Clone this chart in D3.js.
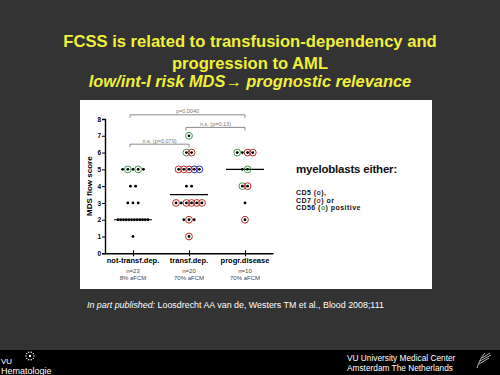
<!DOCTYPE html>
<html>
<head>
<meta charset="utf-8">
<script src="https://cdn.jsdelivr.net/npm/d3@7"></script>
<style>
  html, body { margin: 0; padding: 0; background: #333333; }
  svg { display: block; font-family: "Liberation Sans", Arial, sans-serif; }
</style>
</head>
<body>
<svg id="slide" width="500" height="375"></svg>
<script>
// categories + per-group counts
var categories = ["not-transf.dep.", "transf.dep.", "progr.disease"];
var groupN = ["n=23", "n=20", "n=10"];
var groupAfcm = ["8% aFCM", "70% aFCM", "70% aFCM"];

// rows of points: [score, markers]  k = plain dot, g/r/b = ringed dot (CD56 / CD7 / CD5)
var notTransfDep = [[5, "kgkgk"], [4, "kk"], [3, "kkk"], [2, "kkkkkkkkkkkk"], [1, "k"]];
var transfDep = [[7, "g"], [6, "gr"], [5, "rrrbb"], [4, "kk"], [3, "rkrrrr"], [2, "krk"], [1, "r"]];
var progrDisease = [[6, "gkrr"], [5, "kg"], [4, "gr"], [3, "k"], [2, "r"]];
var groups = [notTransfDep, transfDep, progrDisease];

var medians = [2, 3.5, 5];
var yTicks = [0, 1, 2, 3, 4, 5, 6, 7, 8];

// significance brackets (height in score units)
var compFrom = [0, 1, 0];
var compTo = [2, 2, 1];
var compLevel = [8.25, 7.5, 6.5];
var compLabel = ["p=0.0040", "n.s. (p=0.13)", "n.s. (p=0.079)"];

var ringColor = { g: "#3f9a4c", r: "#b8302c", b: "#2b2fb0" };

var svg = d3.select("#slide");

svg.append("rect").attr("width", 500).attr("height", 375).style("fill", "#333333");

// title
var title = svg.append("g").style("fill", "#f0f03c").attr("text-anchor", "middle")
    .style("font-weight", "bold");
title.append("text").attr("x", 250).attr("y", 47).style("font-size", "16.6px")
    .text("FCSS is related to transfusion-dependency and");
title.append("text").attr("x", 250).attr("y", 69).style("font-size", "16.6px")
    .text("progression to AML");
title.append("text").attr("x", 250).attr("y", 87).style("font-size", "16.4px")
    .style("font-style", "italic")
    .text("low/int-I risk MDS\u2192 prognostic relevance");

// white panel
svg.append("rect").attr("x", 80).attr("y", 100).attr("width", 352).attr("height", 189)
    .style("fill", "#ffffff");

// scales
var x = d3.scalePoint().domain(d3.range(categories.length)).range([105, 273]).padding(0.5);
var y = d3.scaleLinear().domain([0, 8]).range([253.3, 119]);

var chart = svg.append("g");

// y axis
var yAxis = chart.append("g").attr("transform", "translate(105,0)")
    .call(d3.axisLeft(y).tickValues(yTicks).tickSize(3).tickFormat(d3.format("d")));
yAxis.select(".domain").attr("stroke-width", 1.4);
yAxis.selectAll("text").style("font-size", "6.5px").style("font-weight", "bold")
    .style("font-family", "Liberation Sans, Arial, sans-serif").attr("x", -4);

// x axis
var xAxis = chart.append("g").attr("transform", "translate(0,253.3)")
    .call(d3.axisBottom(x).tickSize(3).tickSizeOuter(0).tickFormat(""));
xAxis.select(".domain").attr("stroke-width", 1.4);
xAxis.selectAll(".tick line").attr("y1", -3).attr("stroke-width", 1.2);

// y title
chart.append("text")
    .attr("transform", "translate(92," + y(4) + ") rotate(-90)")
    .attr("text-anchor", "middle")
    .style("font-size", "8px").style("font-weight", "bold")
    .text("MDS flow score");

// category labels
var catLab = chart.append("g").attr("text-anchor", "middle");
catLab.selectAll(".cat").data(categories).join("text")
    .attr("x", function(d, i) { return x(i); }).attr("y", 263)
    .style("font-size", "7.5px").style("font-weight", "bold").text(function(d) { return d; });
catLab.selectAll(".n").data(groupN).join("text")
    .attr("x", function(d, i) { return x(i); }).attr("y", 273)
    .style("fill", "#444").style("font-size", "6px").text(function(d) { return d; });
catLab.selectAll(".af").data(groupAfcm).join("text")
    .attr("x", function(d, i) { return x(i); }).attr("y", 280)
    .style("fill", "#444").style("font-size", "6px").text(function(d) { return d; });

// median lines
chart.selectAll(".median").data(medians).join("line")
    .attr("x1", function(d, i) { return x(i) - 19; })
    .attr("x2", function(d, i) { return x(i) + 19; })
    .attr("y1", function(d) { return y(d); })
    .attr("y2", function(d) { return y(d); })
    .attr("stroke", "#000").attr("stroke-width", 1.2);

// points
var pts = [];
groups.forEach(function(rows, gi) {
  rows.forEach(function(row) {
    var marks = row[1].split("");
    var n = marks.length;
    var step = n > 1 ? Math.min(5.2, 30 / (n - 1)) : 0;
    marks.forEach(function(m, j) {
      pts.push({ g: gi, score: row[0], mark: m, off: (j - (n - 1) / 2) * step });
    });
  });
});

chart.selectAll(".ring").data(pts.filter(function(d) { return d.mark !== "k"; })).join("circle")
    .attr("cx", function(d) { return x(d.g) + d.off; })
    .attr("cy", function(d) { return y(d.score); })
    .attr("r", 3.4)
    .style("fill", "none")
    .attr("stroke", function(d) { return ringColor[d.mark]; })
    .attr("stroke-width", 1);

chart.selectAll(".dot").data(pts).join("circle")
    .attr("cx", function(d) { return x(d.g) + d.off; })
    .attr("cy", function(d) { return y(d.score); })
    .attr("r", 1.4)
    .style("fill", "#000");

// brackets
var br = chart.append("g").attr("stroke", "#8a8a8a").style("fill", "none").attr("stroke-width", 1);
compLabel.forEach(function(lab, i) {
  var x1 = x(compFrom[i]) - 3, x2 = x(compTo[i]), yy = y(compLevel[i]);
  br.append("path").attr("d", "M" + x1 + "," + (yy + 3) + "V" + yy + "H" + x2 + "V" + (yy + 3));
  chart.append("text").attr("x", (x1 + x2) / 2).attr("y", yy - 1.5)
      .attr("text-anchor", "middle").style("fill", "#777")
      .style("font-size", "5.5px").text(lab);
});

// legend
var leg = svg.append("g").style("font-weight", "900").style("fill", "#111");
leg.append("text").attr("x", 296).attr("y", 173).style("font-size", "11.5px")
    .style("letter-spacing", "-0.2px").text("myeloblasts either:");
var legLines = [["CD5 (", "o", "),", "b"], ["CD7 (", "o", ") or", "r"], ["CD56 (", "o", ") positive", "g"]];
legLines.forEach(function(l, i) {
  var t = leg.append("text").attr("x", 296).attr("y", 195.3 + i * 7.4)
      .style("font-size", "7px").style("letter-spacing", "0.45px");
  t.append("tspan").text(l[0]);
  t.append("tspan").style("fill", ringColor[l[3]]).text(l[1]);
  t.append("tspan").text(l[2]);
});

// citation
var cit = svg.append("text").attr("x", 87).attr("y", 308).style("fill", "#ffffff")
    .style("font-size", "8.9px");
cit.append("tspan").style("font-style", "italic").text("In part published: ");
cit.append("tspan").text("Loosdrecht AA van de, Westers TM et al., Blood 2008;111");

// footer band
svg.append("rect").attr("x", 0).attr("y", 350).attr("width", 500).attr("height", 25).style("fill", "#000");
var foot = svg.append("g").style("fill", "#ffffff");
foot.append("text").attr("x", 1).attr("y", 364).style("font-size", "8px").text("VU");
foot.append("text").attr("x", 1).attr("y", 373.5).style("font-size", "9px").text("Hematologie");
foot.append("text").attr("x", 347).attr("y", 361).style("font-size", "8.3px").text("VU University Medical Center");
foot.append("text").attr("x", 347).attr("y", 370.5).style("font-size", "8.3px").text("Amsterdam The Netherlands");

// small logos
var logoDots = d3.range(10).map(function(i) { return i * Math.PI * 2 / 10; });
foot.selectAll(".ld").data(logoDots).join("circle")
    .attr("cx", function(a) { return 30 + 4 * Math.cos(a); })
    .attr("cy", function(a) { return 356 + 4 * Math.sin(a); })
    .attr("r", 0.7);
foot.append("circle").attr("cx", 30).attr("cy", 356).attr("r", 1.2);
var feather = foot.append("g").attr("stroke", "#fff").attr("stroke-width", 0.7).style("fill", "none");
feather.append("path").attr("d", "M477,368 C479,362 481,357 485,353");
feather.append("path").attr("d", "M479,364 L489,358 M480,361 L491,355 M482,358 L490,353");
</script>
</body>
</html>
